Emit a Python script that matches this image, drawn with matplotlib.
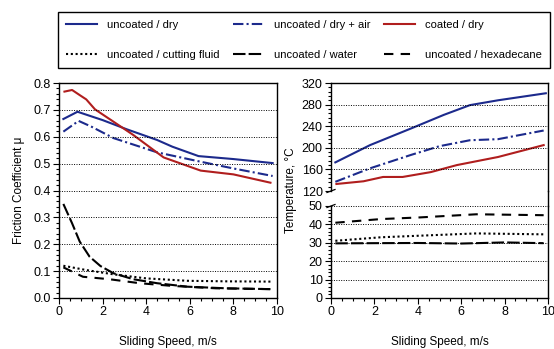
import matplotlib
matplotlib.use( "Agg" )
import matplotlib.pyplot as pyplot
from matplotlib.lines import Line2D
from matplotlib.ticker import MultipleLocator


# friction coefficient vs sliding speed
speed_dry = [ 0.2, 0.85, 2.0, 3.1, 4.5, 5.2, 6.4, 8.0, 9.8 ]
mu_dry = [ 0.666, 0.693, 0.662, 0.628, 0.588, 0.563, 0.528, 0.517, 0.502 ]

speed_air = [ 0.2, 0.9, 1.5, 2.5, 4.5, 6.5, 8.0, 9.8 ]
mu_air = [ 0.619, 0.659, 0.637, 0.595, 0.542, 0.507, 0.482, 0.454 ]

speed_coated = [ 0.25, 0.6, 0.95, 1.25, 1.65, 2.5, 3.4, 4.8, 6.5, 8.0, 9.7 ]
mu_coated = [ 0.768, 0.774, 0.755, 0.739, 0.702, 0.656, 0.607, 0.523, 0.474, 0.46, 0.429 ]

speed_fluid = [ 0.2, 1.25, 2.5, 4.0, 5.9, 7.7, 9.7 ]
mu_fluid = [ 0.12, 0.104, 0.088, 0.073, 0.064, 0.062, 0.061 ]

speed_water = [ 0.2, 0.6, 0.95, 1.4, 1.9, 2.5, 3.4, 4.5, 5.9, 7.7, 9.7 ]
mu_water = [ 0.35, 0.278, 0.21, 0.154, 0.119, 0.092, 0.07, 0.055, 0.042, 0.036, 0.033 ]

speed_hexa = [ 0.2, 1.1, 2.3, 3.7, 5.2, 7.2, 9.7 ]
mu_hexa = [ 0.114, 0.079, 0.07, 0.055, 0.045, 0.036, 0.033 ]

# temperature vs sliding speed
t_speed_dry = [ 0.2, 1.8, 3.7, 5.2, 6.4, 7.7, 9.9 ]
temp_dry = [ 173, 205, 236, 261, 279, 288, 301 ]

t_speed_air = [ 0.2, 1.8, 3.7, 5.0, 6.4, 7.7, 9.8 ]
temp_air = [ 137, 162, 187, 203, 214, 216, 232 ]

t_speed_coated = [ 0.25, 1.5, 2.4, 3.3, 4.6, 5.8, 7.7, 9.8 ]
temp_coated = [ 133, 138, 146, 146, 155, 168, 183, 205 ]

t_speed_fluid = [ 0.2, 2.3, 4.8, 6.7, 9.8 ]
temp_fluid = [ 31.1, 33.0, 34.2, 35.1, 34.6 ]

t_speed_water = [ 0.2, 2.0, 4.0, 6.0, 8.0, 9.8 ]
temp_water = [ 29.7, 29.8, 29.9, 29.6, 30.2, 29.8 ]

t_speed_hexa = [ 0.2, 2.3, 4.1, 6.7, 9.8 ]
temp_hexa = [ 40.9, 42.9, 43.8, 45.5, 45.0 ]

labels = [ 'uncoated / dry', 'uncoated / dry + air', 'coated / dry',
           'uncoated / cutting fluid', 'uncoated / water', 'uncoated / hexadecane' ]


pyplot.rcParams[ 'font.family' ] = [ 'Liberation Sans', 'DejaVu Sans' ]
pyplot.rcParams[ 'font.size' ] = 8

BLUE = '#1c2a8c'
RED = '#b01e1e'
LW = 1.5

styles = [
    dict( color=BLUE, linestyle='-' ),
    dict( color=BLUE, dashes=( 5, 1.5, 1, 1.5 ) ),
    dict( color=RED, linestyle='-' ),
    dict( color='black', dashes=( 1, 1.3 ) ),
    dict( color='black', dashes=( 6, 1.5 ) ),
    dict( color='black', dashes=( 4.5, 3.5 ) ),
]

W, H = 554, 349
fig = pyplot.figure( figsize=( W / 100, H / 100 ), dpi=100 )


def box( x0, y0, x1, y1 ):
    # pixel box (top-left origin) -> figure fraction
    return [ x0 / W, 1 - y1 / H, ( x1 - x0 ) / W, ( y1 - y0 ) / H ]


def style_axis( ax ):
    ax.tick_params( which='both', direction='out', top=False, right=False, labelsize=9, pad=2 )
    ax.tick_params( which='major', length=4, width=0.8 )
    ax.tick_params( which='minor', length=2, width=0.8 )
    ax.grid( axis='y', which='major', color='black', linewidth=0.7, dashes=( 1, 1.5 ) )
    ax.set_axisbelow( False )
    for s in ax.spines.values():
        s.set_linewidth( 1.0 )


# left panel : friction
ax1 = fig.add_axes( box( 59, 83, 277, 298 ) )
series_mu = [ ( speed_dry, mu_dry ), ( speed_air, mu_air ), ( speed_coated, mu_coated ),
              ( speed_fluid, mu_fluid ), ( speed_water, mu_water ), ( speed_hexa, mu_hexa ) ]
handles = []
for ( x, y ), st, lab in zip( series_mu, styles, labels ):
    line, = ax1.plot( x, y, linewidth=LW, label=lab, **st )
    handles.append( line )
ax1.set_xlim( 0, 10 )
ax1.set_ylim( 0, 0.8 )
ax1.xaxis.set_major_locator( MultipleLocator( 2 ) )
ax1.xaxis.set_minor_locator( MultipleLocator( 0.5 ) )
ax1.yaxis.set_major_locator( MultipleLocator( 0.1 ) )
ax1.yaxis.set_minor_locator( MultipleLocator( 0.02 ) )
ax1.yaxis.set_major_formatter( matplotlib.ticker.FormatStrFormatter( '%.1f' ) )
style_axis( ax1 )
ax1.set_xlabel( 'Sliding Speed, m/s', labelpad=12.5, fontsize=8.5 )
fig.text( 19 / W, 1 - 190 / H, 'Friction Coefficient \u03bc', rotation=90, ha='center', va='center',
          fontsize=8.5 )

# right panel : temperature (broken axis)
ax2 = fig.add_axes( box( 331, 83, 548, 191 ) )
ax3 = fig.add_axes( box( 331, 206, 548, 298 ) )
series_t = [ ( t_speed_dry, temp_dry ), ( t_speed_air, temp_air ), ( t_speed_coated, temp_coated ),
             ( t_speed_fluid, temp_fluid ), ( t_speed_water, temp_water ), ( t_speed_hexa, temp_hexa ) ]
for ( x, y ), st in zip( series_t[ :3 ], styles[ :3 ] ):
    ax2.plot( x, y, linewidth=LW, **st )
for ( x, y ), st in zip( series_t[ 3: ], styles[ 3: ] ):
    ax3.plot( x, y, linewidth=LW, **st )

ax2.set_xlim( 0, 10 )
ax2.set_ylim( 120, 320 )
ax2.yaxis.set_major_locator( MultipleLocator( 40 ) )
ax2.yaxis.set_minor_locator( MultipleLocator( 8 ) )
ax3.set_xlim( 0, 10 )
ax3.set_ylim( 0, 50 )
ax3.xaxis.set_major_locator( MultipleLocator( 2 ) )
ax3.xaxis.set_minor_locator( MultipleLocator( 0.5 ) )
ax3.yaxis.set_major_locator( MultipleLocator( 10 ) )
ax3.yaxis.set_minor_locator( MultipleLocator( 2 ) )
style_axis( ax2 )
style_axis( ax3 )
ax2.spines[ 'bottom' ].set_visible( False )
ax2.tick_params( axis='x', which='both', bottom=False, labelbottom=False )
ax3.spines[ 'top' ].set_visible( False )
ax3.set_xlabel( 'Sliding Speed, m/s', labelpad=12.5, fontsize=8.5 )
fig.text( 291 / W, 1 - 190 / H, 'Temperature, \u00b0C', rotation=90, ha='center', va='center',
          fontsize=8.5 )

# continuous right frame and break marks
fig.add_artist( Line2D( [ 548 / W, 548 / W ], [ 1 - 191 / H, 1 - 206 / H ], color='black', linewidth=1.0 ) )
for yb in ( 191, 206 ):
    fig.add_artist( Line2D( [ 327 / W, 335 / W ], [ 1 - ( yb + 1.5 ) / H, 1 - ( yb - 1.5 ) / H ],
                            color='black', linewidth=0.9 ) )

# legend on top
order = [ 0, 3, 1, 4, 2, 5 ]
leg = fig.legend( [ handles[ i ] for i in order ], [ labels[ i ] for i in order ],
                  ncol=3, loc='upper left', bbox_to_anchor=box( 58, 12, 550, 70 ), mode='expand',
                  frameon=True, fancybox=False, edgecolor='black', framealpha=1,
                  fontsize=8, handlelength=2.8, handletextpad=0.9, labelspacing=1.75,
                  borderaxespad=0, borderpad=0.75, columnspacing=1.0 )
leg.get_frame().set_linewidth( 1.0 )

fig.savefig( 'out.png', dpi=100 )
